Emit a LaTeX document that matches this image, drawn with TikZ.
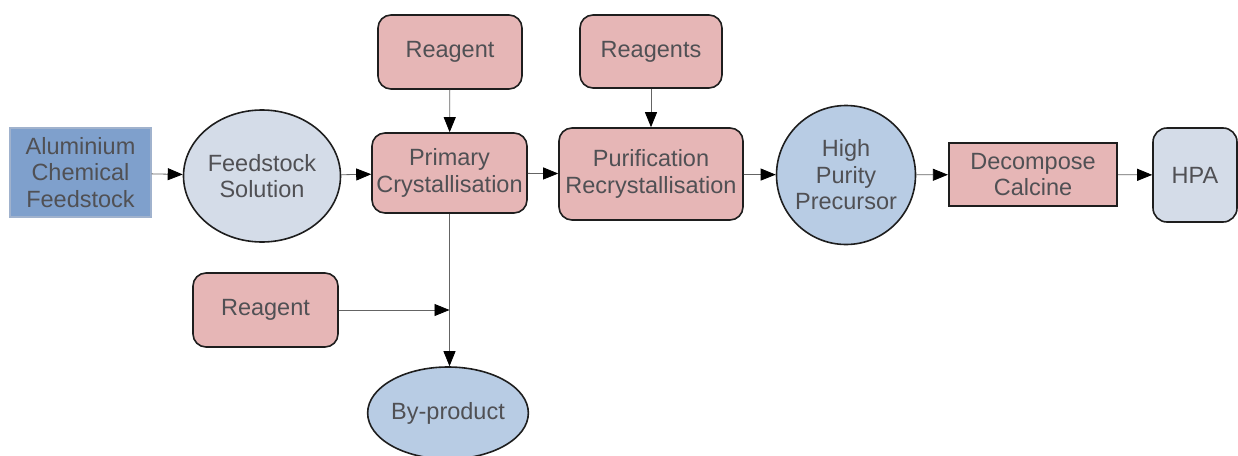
\documentclass[tikz,border=0pt]{standalone}
\usepackage{fontspec}
\setmainfont{Liberation Sans}
\usepackage{tikz}
\usetikzlibrary{arrows.meta, shapes.geometric}
\definecolor{pinkfill} {RGB}{230,182,182}
\definecolor{bluefill} {RGB}{184,204,228}
\definecolor{greyblue} {RGB}{212,220,232}
\definecolor{steelfill}{RGB}{127,160,204}
\definecolor{steeledge}{RGB}{160,178,205}
\definecolor{darktext} {RGB}{80,80,84}
\definecolor{edgeclr}  {RGB}{30,30,30}
\definecolor{lineclr}  {RGB}{100,100,100}

\begin{document}
\begin{tikzpicture}[x=1pt, y=-1pt,
    every node/.style={font=\fontsize{23.5}{26.5}\selectfont, text=darktext, align=center, inner sep=0pt},
    pinkbox/.style={draw=edgeclr, line width=1.6pt, fill=pinkfill, rounded corners=13pt},
    bluecirc/.style={draw=edgeclr, line width=1.6pt, fill=bluefill, circle},
    flow/.style={lineclr, line width=0.8pt, -{Triangle[length=15pt, width=12pt, fill=black, color=black]}}]
  \useasboundingbox (0,0) rectangle (1238,455);
  \begin{scope}
  \clip (0,0) rectangle (1238,455);
  % main line
  \node[fill=steelfill, draw=steeledge, line width=1.2pt, minimum width=141pt, minimum height=89pt]
    (feed) at (80.5,172.5) {Aluminium\\Chemical\\Feedstock};
  \node[ellipse, draw=edgeclr, line width=1.6pt, fill=greyblue, minimum width=157pt, minimum height=132pt]
    (sol) at (262,176) {Feedstock\\Solution};
  \node[pinkbox, minimum width=155pt, minimum height=80pt] (prim) at (449.5,173) {Primary\\Crystallisation};
  \node[pinkbox, minimum width=184pt, minimum height=92pt] (puri) at (651,174) {Purification\\Recrystallisation};
  \node[bluecirc, minimum size=139pt] (hpp) at (846,175) {High\\Purity\\Precursor};
  \node[draw=edgeclr, line width=2.2pt, fill=pinkfill, minimum width=168pt, minimum height=63pt]
    (dec) at (1033,174.5) {Decompose\\Calcine};
  \node[draw=edgeclr, line width=1.6pt, fill=greyblue, rounded corners=14pt, minimum width=84pt, minimum height=94pt]
    (hpa) at (1195,175) {HPA};
  % reagents
  \node[pinkbox, minimum width=144pt, minimum height=74pt] (reagA) at (450,52) {Reagent};
  \node[pinkbox, minimum width=142pt, minimum height=73pt] (reagB) at (651,51.5) {Reagents};
  \node[pinkbox, minimum width=145pt, minimum height=74pt] (reagC) at (265.5,310) {Reagent};
  % by-product
  \node[ellipse, draw=edgeclr, line width=1.6pt, fill=bluefill, minimum width=140pt, minimum height=92pt]
    (byp) at (448,413) {By-product};
  \coordinate (join) at (449.5,310);
  % connectors
  \draw[flow] (feed) -- (sol);
  \draw[flow] (sol) -- (prim);
  \draw[flow] (prim) -- (puri);
  \draw[flow] (puri) -- (hpp);
  \draw[flow] (hpp) -- (dec);
  \draw[flow] (dec) -- (hpa);
  \draw[flow] (reagA) -- (prim);
  \draw[flow] (reagB) -- (puri);
  \draw[flow] (prim.south) -- (prim.south |- byp.north);
  \draw[flow] (reagC) -- (join);
  \end{scope}
\end{tikzpicture}
\end{document}
